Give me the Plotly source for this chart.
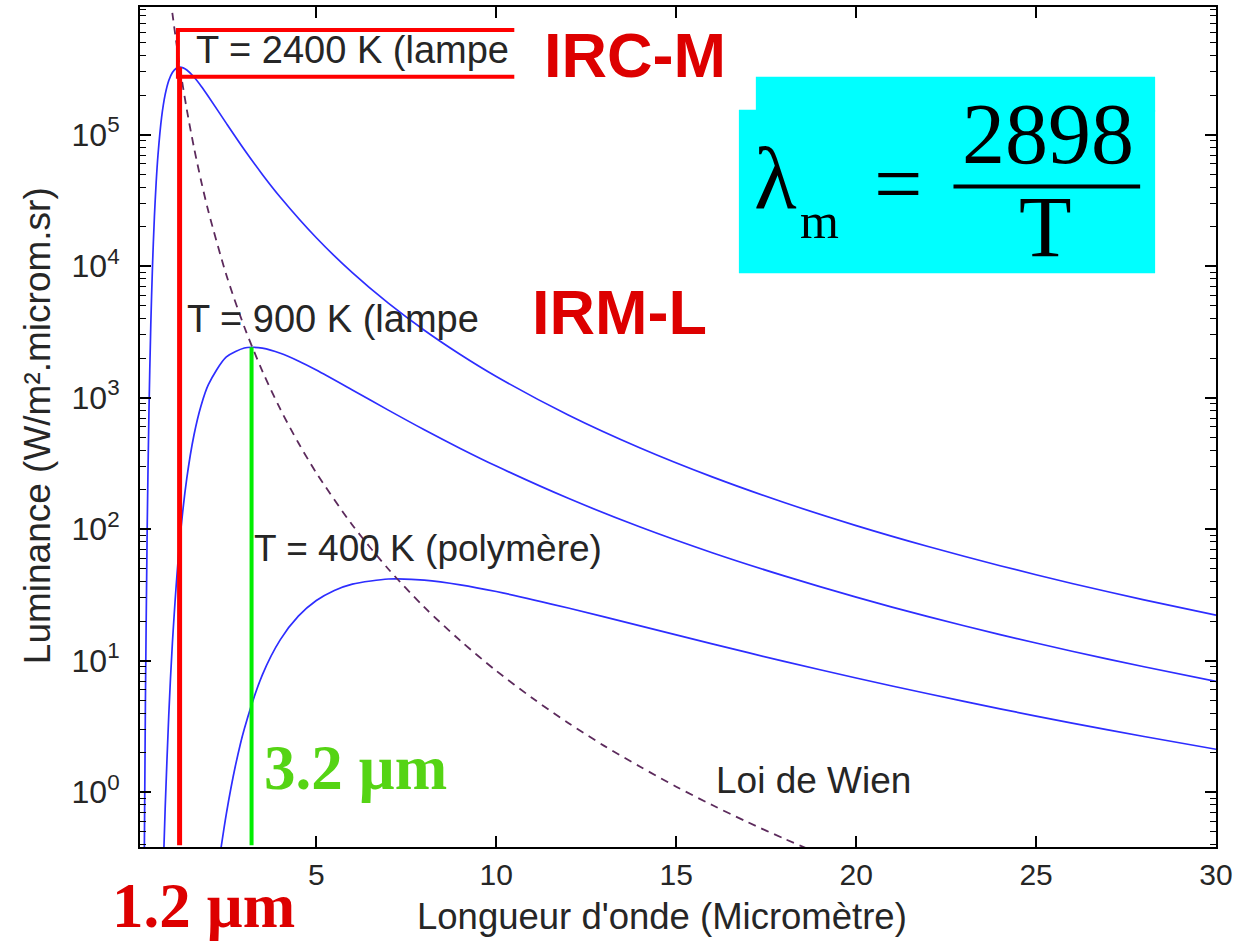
import plotly.graph_objects as go

# Spectral radiance of three black-body sources, W/(m².µm.sr), vs wavelength in µm
lam_2400 = [0.22, 0.25, 0.3, 0.35, 0.4, 0.45, 0.5, 0.55, 0.6, 0.7, 0.8, 0.9, 1.0, 1.1, 1.2, 1.3, 1.4,
            1.6, 1.8, 2.0, 2.5, 3.0, 3.5, 4.0, 5, 6, 7, 8, 9, 10, 12, 14, 16, 18, 20, 22, 24, 26, 28, 30]
lum_2400 = [0.338, 4.70, 103, 824, 3600, 10570, 23650, 43680, 70100, 135300, 202300, 258500, 297500,
            319100, 326000, 322000, 310200, 274400, 233800, 195500, 121950, 76860, 49890, 33460, 16450,
            8925, 5231, 3258, 2131, 1450, 738.6, 414.3, 249.9, 159.5, 106.5, 73.8, 52.7, 38.65, 28.98, 22.16]

lam_900 = [0.76, 0.8, 0.9, 1.0, 1.2, 1.4, 1.6, 1.8, 2.0, 2.5, 3.0, 3.2, 3.5, 4.0, 4.5, 5, 6, 7, 8, 9,
           10, 12, 14, 16, 18, 20, 22, 24, 26, 28, 30]
lum_900 = [0.344, 0.761, 3.89, 13.6, 78.4, 243, 520, 876, 1257, 2040, 2388, 2418, 2379, 2177, 1904,
           1624, 1146, 804, 570, 411, 301.8, 171.6, 103.8, 66.2, 44.1, 30.4, 21.6, 15.8, 11.8, 8.99, 6.96]

lam_400 = [2.35, 2.5, 2.75, 3.0, 3.5, 4.0, 4.5, 5.0, 5.5, 6, 7, 7.25, 8, 9, 10, 12, 14, 16, 18, 20,
           22, 24, 26, 28, 30]
lum_400 = [0.374, 0.688, 1.58, 3.04, 7.80, 14.46, 21.8, 28.65, 34.2, 38.25, 41.8, 41.93, 41.0, 37.76,
           33.56, 25.15, 18.37, 13.41, 9.88, 7.38, 5.60, 4.30, 3.35, 2.65, 2.12]

# Locus of the maxima (Wien's displacement law)
lam_wien = [0.95, 1.0, 1.2, 1.4, 1.6, 1.8, 2.0, 2.5, 3.0, 3.5, 4, 4.5, 5, 6, 7, 8, 9, 10, 11, 12, 13,
            14, 15, 16, 17, 18, 19]
lum_wien = [1.08e6, 837000, 336400, 155600, 79800, 44300, 26160, 8570, 3444, 1594, 817, 454, 268,
            107.6, 49.8, 25.5, 14.2, 8.37, 5.20, 3.36, 2.25, 1.56, 1.10, 0.798, 0.589, 0.443, 0.338]

# Peak wavelengths highlighted for the two lamps
peak_lam = [1.2, 3.2]
peak_lum = [326000, 2418]
peak_colors = ["#ff0000", "#00ee00"]
peak_widths = [5, 4]

x_ticks = [5, 10, 15, 20, 25, 30]
y_ticks = [1, 10, 100, 1000, 10000, 100000]
y_ticktext = ["10<sup>%d</sup>" % k for k in range(6)]
y_minor = [m * 10 ** k for k in range(-1, 6) for m in range(2, 10)]

X_RANGE = [0.1, 30]
Y_RANGE = [-0.417, 5.971]
Y_FLOOR = 10 ** Y_RANGE[0]

# plot area in page pixels
L, R, T, B = 140, 1218, 5, 847


def pxx(x):
    return (x - L) / (R - L)


def pxy(y):
    return (B - y) / (B - T)


SANS = "Liberation Sans, Arial, Helvetica, sans-serif"
SERIF = "Liberation Serif, Times New Roman, serif"
TXT = "#262626"

fig = go.Figure()

for lam, lum in [(lam_2400, lum_2400), (lam_900, lum_900), (lam_400, lum_400)]:
    fig.add_trace(go.Scatter(x=lam, y=lum, mode="lines",
                             line=dict(color="#2d2dff", width=1.7, shape="spline", smoothing=0.8),
                             hoverinfo="skip", showlegend=False))

fig.add_trace(go.Scatter(x=lam_wien, y=lum_wien, mode="lines",
                         line=dict(color="#5c2a5c", width=1.8, dash="8px,6px", shape="spline",
                                   smoothing=0.8),
                         hoverinfo="skip", showlegend=False))

for lam, lum, col, w in zip(peak_lam, peak_lum, peak_colors, peak_widths):
    fig.add_trace(go.Scatter(x=[lam, lam], y=[Y_FLOOR * 1.03, lum], mode="lines",
                             line=dict(color=col, width=w), hoverinfo="skip", showlegend=False))

shapes = [
    # cyan panel behind the formula
    dict(type="rect", xref="paper", yref="paper", x0=pxx(740), x1=pxx(1157), y0=pxy(272), y1=pxy(108),
         fillcolor="#00ffff", line=dict(width=0), layer="above"),
    dict(type="rect", xref="paper", yref="paper", x0=pxx(757), x1=pxx(1157), y0=pxy(110), y1=pxy(75),
         fillcolor="#00ffff", line=dict(width=0), layer="above"),
    # fraction bar
    dict(type="line", xref="paper", yref="paper", x0=pxx(955), x1=pxx(1142), y0=pxy(185), y1=pxy(185),
         line=dict(color="black", width=4), layer="above"),
    # red frame around the 2400 K label
    dict(type="path", xref="paper", yref="paper",
         path="M %f,%f L %f,%f L %f,%f L %f,%f" % (pxx(515), pxy(28), pxx(178), pxy(28),
                                                   pxx(178), pxy(75), pxx(515), pxy(75)),
         line=dict(color="#ff0000", width=4), layer="above"),
]

annotations = []


def note(text, x, y, size, color, family=SANS, xanchor="left", yanchor="middle", angle=0):
    annotations.append(dict(text=text, xref="paper", yref="paper", x=pxx(x), y=pxy(y),
                            xanchor=xanchor, yanchor=yanchor, showarrow=False, textangle=angle,
                            font=dict(family=family, size=size, color=color)))


note("T = 2400 K (lampe", 194, 48, 38, TXT)
note("T = 900 K (lampe", 185, 318, 38, TXT)
note("T = 400 K (polymère)", 252, 548, 37, TXT)
note("Loi de Wien", 715, 780, 37, TXT)

note("<b>IRC-M</b>", 543, 53, 63, "#dd0000")
note("<b>IRM-L</b>", 531, 311, 63, "#dd0000")
note("<b>3.2 µm</b>", 262, 768, 63, "#55d414", family=SERIF)
note("<b>1.2 µm</b>", 110, 906, 63, "#dd0000", family=SERIF)

# Wien formula
note("λ", 777, 178, 88, "black", family=SERIF, xanchor="center")
note("m", 821, 220, 50, "black", family=SERIF, xanchor="center")
note("=", 900, 182, 86, "black", family=SERIF, xanchor="center")
note("2898", 1050, 132, 86, "black", family=SERIF, xanchor="center")
note("T", 1047, 226, 86, "black", family=SERIF, xanchor="center")

# axis titles
note("Longueur d'onde (Micromètre)", 663, 917, 36.5, TXT, xanchor="center")
note("Luminance (W/m².microm.sr)", 37, 425, 37, TXT, xanchor="center", angle=-90)

axis_common = dict(showline=True, linecolor="black", linewidth=2, mirror="allticks",
                   ticks="inside", ticklen=11, tickwidth=1.5, tickcolor="black",
                   showgrid=False, zeroline=False)

fig.update_layout(
    width=1238, height=943,
    margin=dict(l=L, r=1238 - R, t=T, b=943 - B),
    paper_bgcolor="white", plot_bgcolor="white",
    xaxis=dict(range=X_RANGE, tickvals=x_ticks, ticktext=[str(v) for v in x_ticks],
               tickfont=dict(family=SANS, size=30, color=TXT), ticklabelstandoff=0,
               **axis_common),
    yaxis=dict(type="log", range=Y_RANGE, tickvals=y_ticks, ticktext=y_ticktext,
               tickfont=dict(family=SANS, size=32, color=TXT), ticklabelstandoff=12,
               minor=dict(tickvals=y_minor, ticks="inside", ticklen=6, tickwidth=1.2,
                          tickcolor="black", showgrid=False),
               **axis_common),
    shapes=shapes,
    annotations=annotations,
    showlegend=False,
)

fig.write_html("out.html")
